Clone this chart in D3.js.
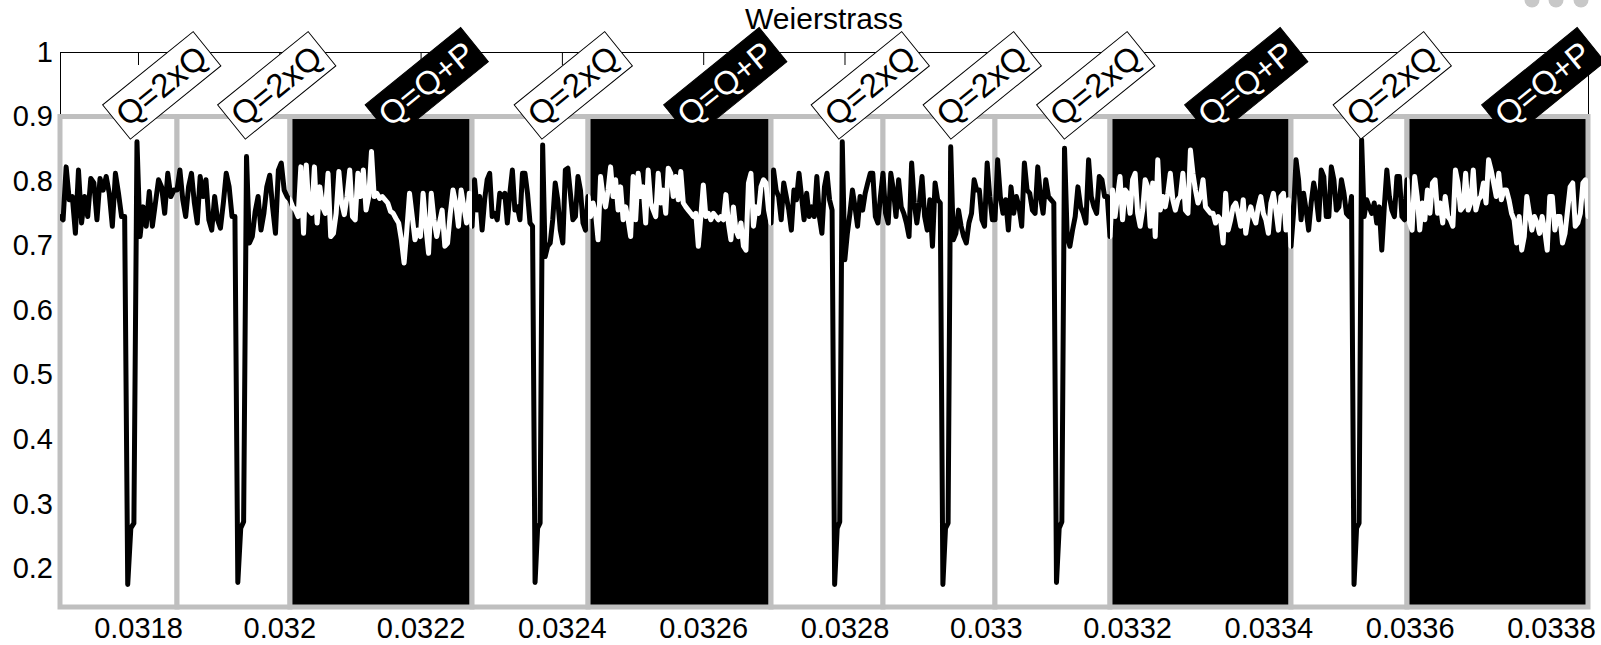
<!DOCTYPE html>
<meta charset="utf-8">
<style>
    body {
        margin: 0;
        background: #fff;
    }

    text {
        font-family: "Liberation Sans", Arial, Helvetica, sans-serif;
    }

    .axis path,
    .axis line {
        stroke: #000;
        stroke-width: 1px;
    }

    .axis text {
        font-size: 29px;
        fill: #000;
    }

    .trace {
        fill: none;
        stroke-width: 5px;
        stroke-linejoin: round;
        stroke-linecap: round;
    }
</style>
<script src="https://d3js.org/d3.v7.min.js"></script>

<body>
    <div id="chart"></div>
    <script>
        // tick values
        var xTicks = [0.0318, 0.032, 0.0322, 0.0324, 0.0326, 0.0328, 0.033, 0.0332, 0.0334, 0.0336, 0.0338];
        var yTicks = [0.2, 0.3, 0.4, 0.5, 0.6, 0.7, 0.8, 0.9, 1];

        // operation windows: edges along x, kind (D = doubling, A = addition)
        var segEdges = [0.0316896, 0.0318552, 0.0320151, 0.0322728, 0.032437, 0.032696, 0.0328545,
            0.033013, 0.0331758, 0.033432, 0.0335962, 0.0338524];
        var segKinds = ["D", "D", "A", "D", "A", "D", "D", "D", "A", "D", "A"];
        var segText = { D: "Q=2xQ", A: "Q=Q+P" };

        // trace values read inside each window (evenly spaced across the window)
        var seg1 = [0.745, 0.740, 0.822, 0.771, 0.776, 0.719, 0.817, 0.735, 0.776, 0.745, 0.804, 0.797, 0.740, 0.804,
            0.786, 0.807, 0.781, 0.730, 0.812, 0.781, 0.745, 0.745, 0.175, 0.262, 0.270, 0.861, 0.714, 0.760, 0.730,
            0.784, 0.730, 0.766, 0.802, 0.791, 0.750, 0.812, 0.776, 0.786];
        var seg2 = [0.786, 0.817, 0.771, 0.745, 0.791, 0.812, 0.766, 0.735, 0.807, 0.776, 0.802, 0.740, 0.724, 0.776,
            0.740, 0.727, 0.766, 0.812, 0.791, 0.745, 0.745, 0.178, 0.262, 0.272, 0.838, 0.704, 0.714, 0.753, 0.776,
            0.724, 0.750, 0.791, 0.809, 0.760, 0.719, 0.817, 0.828, 0.786, 0.776];
        var seg3 = [0.771, 0.760, 0.755, 0.745, 0.822, 0.719, 0.825, 0.755, 0.750, 0.822, 0.735, 0.791, 0.760, 0.750,
            0.812, 0.714, 0.719, 0.750, 0.815, 0.766, 0.748, 0.776, 0.817, 0.745, 0.740, 0.812, 0.776, 0.817, 0.755,
            0.776, 0.846, 0.776, 0.781, 0.773, 0.776, 0.771, 0.766, 0.753, 0.750, 0.742, 0.735, 0.709, 0.673, 0.724,
            0.781, 0.745, 0.709, 0.724, 0.714, 0.781, 0.730, 0.688, 0.781, 0.740, 0.714, 0.735, 0.755, 0.699, 0.704,
            0.750, 0.786, 0.766, 0.730, 0.786, 0.760, 0.735, 0.781];
        var seg4 = [0.730, 0.802, 0.755, 0.776, 0.724, 0.771, 0.802, 0.812, 0.745, 0.750, 0.740, 0.781, 0.776, 0.781,
            0.735, 0.781, 0.817, 0.755, 0.760, 0.740, 0.812, 0.812, 0.781, 0.735, 0.730, 0.178, 0.262, 0.270, 0.856,
            0.683, 0.699, 0.704, 0.740, 0.797, 0.771, 0.724, 0.704, 0.817, 0.820, 0.781, 0.740, 0.745, 0.807, 0.786,
            0.735, 0.724];
        var seg5 = [0.776, 0.745, 0.766, 0.750, 0.709, 0.807, 0.776, 0.760, 0.786, 0.822, 0.776, 0.802, 0.755, 0.791,
            0.740, 0.760, 0.740, 0.714, 0.807, 0.740, 0.812, 0.776, 0.791, 0.735, 0.817, 0.766, 0.755, 0.745, 0.812,
            0.766, 0.786, 0.750, 0.820, 0.812, 0.776, 0.807, 0.771, 0.815, 0.766, 0.760, 0.755, 0.750, 0.745, 0.750,
            0.699, 0.745, 0.794, 0.745, 0.750, 0.740, 0.750, 0.745, 0.740, 0.745, 0.740, 0.779, 0.735, 0.709, 0.760,
            0.724, 0.714, 0.735, 0.699, 0.693, 0.797, 0.812, 0.730, 0.760, 0.750, 0.791, 0.802, 0.797, 0.755];
        var seg6 = [0.735, 0.817, 0.786, 0.776, 0.740, 0.797, 0.776, 0.755, 0.724, 0.786, 0.771, 0.812, 0.776, 0.740,
            0.781, 0.745, 0.760, 0.745, 0.807, 0.745, 0.719, 0.791, 0.812, 0.771, 0.755, 0.175, 0.262, 0.272, 0.861,
            0.678, 0.719, 0.750, 0.786, 0.760, 0.730, 0.776, 0.755, 0.781, 0.797, 0.812, 0.812, 0.745, 0.735, 0.776];
        var seg7 = [0.812, 0.750, 0.735, 0.812, 0.786, 0.745, 0.802, 0.760, 0.750, 0.735, 0.714, 0.828, 0.766, 0.735,
            0.766, 0.807, 0.745, 0.724, 0.771, 0.699, 0.797, 0.771, 0.766, 0.175, 0.262, 0.270, 0.853, 0.709, 0.719,
            0.755, 0.730, 0.714, 0.704, 0.735, 0.750, 0.802, 0.786, 0.786, 0.740, 0.730, 0.828, 0.776, 0.740];
        var seg8 = [0.740, 0.833, 0.776, 0.750, 0.771, 0.724, 0.791, 0.750, 0.776, 0.760, 0.730, 0.828, 0.786, 0.781,
            0.755, 0.750, 0.822, 0.776, 0.750, 0.802, 0.776, 0.771, 0.766, 0.178, 0.262, 0.272, 0.851, 0.714, 0.699,
            0.724, 0.745, 0.791, 0.760, 0.750, 0.735, 0.833, 0.776, 0.760, 0.750, 0.807, 0.802, 0.776, 0.776];
        var seg9 = [0.714, 0.786, 0.745, 0.776, 0.807, 0.740, 0.786, 0.781, 0.750, 0.802, 0.812, 0.750, 0.730, 0.755,
            0.802, 0.791, 0.730, 0.797, 0.714, 0.833, 0.755, 0.776, 0.760, 0.781, 0.812, 0.771, 0.755, 0.771, 0.776,
            0.812, 0.755, 0.750, 0.848, 0.812, 0.786, 0.766, 0.776, 0.802, 0.760, 0.755, 0.750, 0.750, 0.735, 0.745,
            0.740, 0.704, 0.781, 0.724, 0.740, 0.760, 0.766, 0.750, 0.730, 0.771, 0.719, 0.745, 0.760, 0.745, 0.735,
            0.760, 0.776, 0.750, 0.740, 0.719, 0.766, 0.781, 0.755, 0.724, 0.776, 0.781, 0.724, 0.771];
        var seg10 = [0.699, 0.750, 0.833, 0.802, 0.740, 0.781, 0.755, 0.724, 0.766, 0.797, 0.776, 0.740, 0.817, 0.807,
            0.745, 0.745, 0.822, 0.802, 0.755, 0.760, 0.802, 0.781, 0.750, 0.745, 0.776, 0.175, 0.262, 0.270, 0.864,
            0.745, 0.771, 0.760, 0.750, 0.766, 0.735, 0.760, 0.693, 0.760, 0.817, 0.776, 0.755, 0.745, 0.807, 0.807,
            0.745, 0.740];
        var seg11 = [0.802, 0.735, 0.724, 0.807, 0.776, 0.724, 0.766, 0.740, 0.786, 0.750, 0.797, 0.802, 0.750, 0.766,
            0.735, 0.776, 0.745, 0.740, 0.730, 0.817, 0.797, 0.755, 0.760, 0.812, 0.755, 0.766, 0.817, 0.755, 0.771,
            0.776, 0.797, 0.766, 0.833, 0.817, 0.797, 0.776, 0.812, 0.771, 0.786, 0.786, 0.771, 0.750, 0.740, 0.704,
            0.745, 0.693, 0.714, 0.776, 0.750, 0.724, 0.745, 0.735, 0.719, 0.745, 0.724, 0.693, 0.776, 0.776, 0.724,
            0.745, 0.745, 0.704, 0.719, 0.755, 0.791, 0.797, 0.730, 0.735, 0.750, 0.797, 0.802, 0.745];
        var segValues = [seg1, seg2, seg3, seg4, seg5, seg6, seg7, seg8, seg9, seg10, seg11];

        var width = 1601,
            height = 645;

        var svg = d3.select("#chart")
            .append("svg")
            .attr("width", width)
            .attr("height", height);

        var x = d3.scaleLinear().domain([segEdges[0], segEdges[segEdges.length - 1]]).range([60, 1588]),
            y = d3.scaleLinear().domain([0.14, 1]).range([607, 52]);

        var segs = segKinds.map(function(k, i) {
            return { kind: k, x0: segEdges[i], x1: segEdges[i + 1], values: segValues[i], label: segText[k] };
        });

        // axes box (drawn first, the windows cover most of it)
        svg.append("g")
            .attr("class", "axis")
            .attr("transform", "translate(0," + y(1) + ")")
            .call(d3.axisTop(x).tickValues(xTicks).tickSizeInner(-13).tickSizeOuter(0).tickFormat(""));

        svg.append("g")
            .attr("class", "axis")
            .attr("transform", "translate(" + x.range()[0] + ",0)")
            .call(d3.axisLeft(y).tickValues(yTicks).tickSizeInner(-13).tickSizeOuter(0).tickPadding(7)
                .tickFormat(function(d) { return String(+d.toFixed(1)); }));

        svg.append("g")
            .attr("class", "axis")
            .attr("transform", "translate(" + x.range()[1] + ",0)")
            .call(d3.axisRight(y).tickValues(yTicks).tickSizeInner(-13).tickSizeOuter(0).tickFormat(""));

        svg.append("g")
            .attr("class", "axis")
            .attr("transform", "translate(0," + y(0.14) + ")")
            .call(d3.axisBottom(x).tickValues(xTicks).tickSize(0).tickPadding(10)
                .tickFormat(function(d) { return String(+d.toFixed(4)); }))
            .select(".domain").remove();

        // windows
        svg.append("g")
            .selectAll("rect")
            .data(segs)
            .join("rect")
            .attr("x", function(d) { return x(d.x0); })
            .attr("width", function(d) { return x(d.x1) - x(d.x0); })
            .attr("y", y(0.9))
            .attr("height", y(0.14) - y(0.9))
            .attr("fill", function(d) { return d.kind === "A" ? "#000" : "#fff"; })
            .attr("stroke", "#bfbfbf")
            .attr("stroke-width", 5);

        // trace points
        var pts = [];
        segs.forEach(function(s, i) {
            var n = s.values.length,
                last = i === segs.length - 1;
            s.values.forEach(function(v, j) {
                pts.push([s.x0 + (s.x1 - s.x0) * j / (last ? n - 1 : n), v]);
            });
        });

        var defs = svg.append("defs");
        ["D", "A"].forEach(function(k) {
            defs.append("clipPath")
                .attr("id", "clip" + k)
                .selectAll("rect")
                .data(segs.filter(function(s) { return s.kind === k; }))
                .join("rect")
                .attr("x", function(d) { return x(d.x0); })
                .attr("width", function(d) { return x(d.x1) - x(d.x0); })
                .attr("y", 0)
                .attr("height", height);
        });

        var line = d3.line()
            .x(function(d) { return x(d[0]); })
            .y(function(d) { return y(d[1]); });

        svg.append("path")
            .datum(pts)
            .attr("class", "trace")
            .attr("clip-path", "url(#clipD)")
            .attr("stroke", "#000")
            .attr("d", line);

        svg.append("path")
            .datum(pts)
            .attr("class", "trace")
            .attr("clip-path", "url(#clipA)")
            .attr("stroke", "#fff")
            .attr("d", line);

        // rotated operation labels
        var labels = svg.append("g")
            .selectAll("g")
            .data(segs)
            .join("g")
            .attr("transform", function(d) {
                return "translate(" + x((d.x0 + d.x1) / 2) + "," + y(0.9) + ") rotate(-39)";
            });

        labels.each(function(d) {
            var g = d3.select(this);
            var t = g.append("text")
                .attr("x", 0)
                .attr("y", 3)
                .attr("dominant-baseline", "central")
                .style("font-size", "33px")
                .attr("fill", d.kind === "A" ? "#fff" : "#000")
                .text(d.label);
            var w = t.node().getComputedTextLength();
            g.insert("rect", "text")
                .attr("x", -5)
                .attr("y", -19)
                .attr("width", w + 11)
                .attr("height", 44)
                .attr("fill", d.kind === "A" ? "#000" : "#fff")
                .attr("stroke", "#000")
                .attr("stroke-width", 1);
        });

        // title
        svg.append("text")
            .attr("x", (x.range()[0] + x.range()[1]) / 2)
            .attr("y", 29)
            .attr("text-anchor", "middle")
            .style("font-size", "30px")
            .text("Weierstrass");

        // window controls peeking in at the top right
        svg.append("g")
            .selectAll("circle")
            .data([1532, 1556, 1581])
            .join("circle")
            .attr("cx", function(d) { return d; })
            .attr("cy", 0)
            .attr("r", 7.5)
            .attr("fill", "#c8c8c8");
    </script>
</body>
